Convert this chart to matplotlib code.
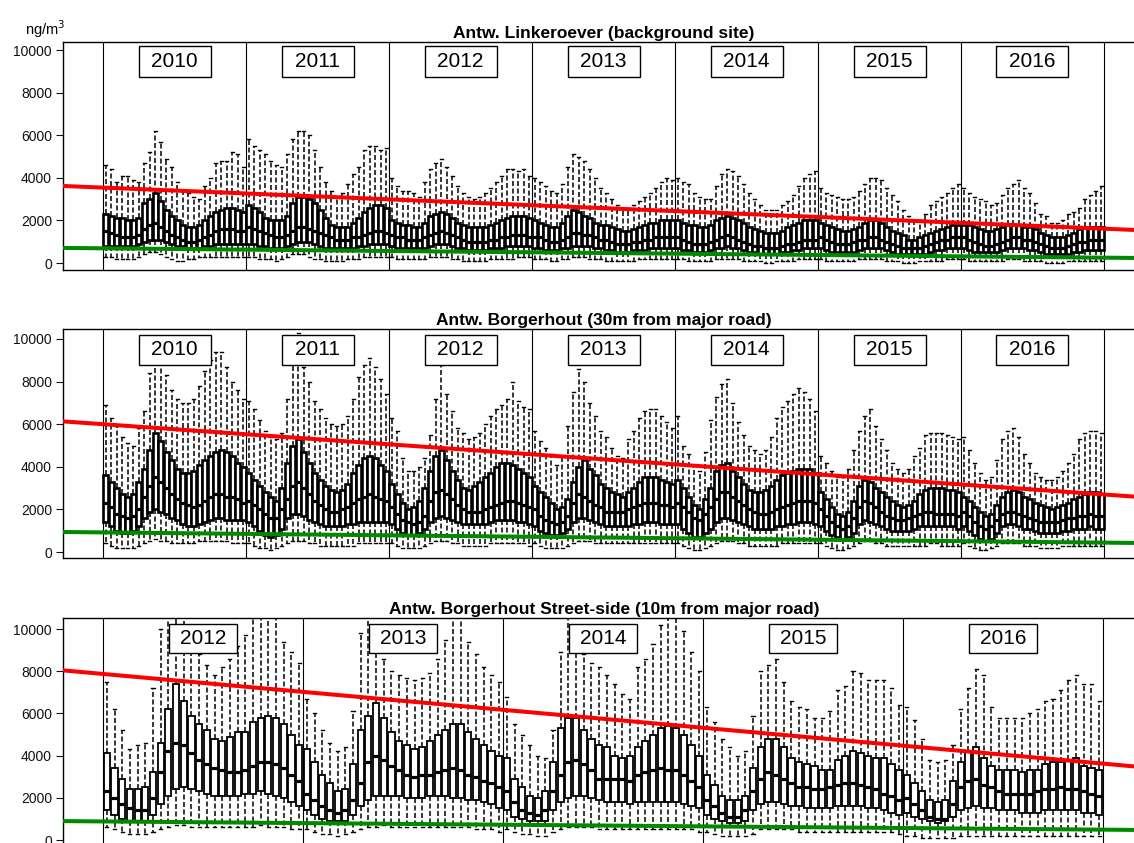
import numpy as np
import matplotlib
matplotlib.use("Agg")
import matplotlib.pyplot as plt
from matplotlib.patches import Rectangle

plt.rcParams['font.family'] = ['Liberation Sans', 'DejaVu Sans']
plt.rcParams['lines.scale_dashes'] = False

# Weekly-ish (two-week) box statistics, in units of 100 ng/m3, one row per year

# Antwerpen Linkeroever (background), 2010-2016
lin_hi = [
    46, 44, 38, 41, 41, 39, 38, 47, 52, 62, 57, 49, 45, 38, 34, 33, 31, 30, 36, 40, 47, 48, 48, 52, 51, 45,
    58, 55, 53, 51, 48, 46, 45, 51, 58, 62, 62, 60, 53, 45, 38, 34, 31, 33, 37, 42, 45, 53, 55, 55, 53, 54,
    40, 36, 34, 34, 33, 31, 38, 44, 47, 49, 45, 41, 36, 33, 31, 30, 31, 33, 35, 38, 41, 44, 44, 43, 44, 41,
    40, 38, 36, 34, 33, 37, 45, 51, 50, 48, 44, 40, 35, 33, 30, 27, 26, 26, 27, 29, 31, 33, 35, 38, 40, 39,
    40, 38, 37, 33, 31, 30, 30, 36, 42, 44, 43, 41, 37, 33, 30, 27, 25, 25, 25, 27, 29, 32, 36, 40, 42, 43,
    35, 33, 32, 31, 30, 30, 31, 34, 37, 40, 40, 39, 35, 32, 29, 25, 22, 20, 20, 23, 27, 29, 31, 33, 35, 37,
    35, 33, 31, 30, 29, 27, 28, 32, 35, 37, 39, 35, 33, 28, 23, 22, 19, 19, 20, 23, 24, 26, 30, 32, 34, 36,
]
lin_q3 = [
    23, 22, 21, 21, 20, 20, 21, 28, 30, 33, 29, 25, 22, 20, 18, 17, 17, 18, 20, 22, 24, 25, 26, 26, 25, 24,
    27, 26, 24, 21, 20, 20, 20, 22, 28, 31, 31, 30, 28, 25, 21, 18, 17, 17, 17, 19, 21, 24, 26, 27, 27, 26,
    20, 19, 18, 18, 17, 17, 19, 22, 23, 24, 23, 21, 19, 18, 17, 17, 17, 17, 18, 19, 20, 21, 22, 22, 22, 21,
    20, 19, 18, 17, 17, 19, 22, 25, 24, 22, 21, 19, 18, 18, 17, 16, 15, 15, 16, 17, 18, 19, 19, 20, 20, 20,
    20, 19, 18, 18, 17, 17, 18, 20, 21, 22, 21, 20, 19, 17, 16, 15, 14, 14, 14, 15, 17, 18, 19, 20, 20, 20,
    19, 18, 17, 16, 15, 15, 16, 17, 19, 20, 20, 19, 17, 15, 14, 13, 11, 11, 12, 13, 14, 15, 16, 17, 18, 18,
    18, 18, 17, 16, 15, 15, 16, 17, 18, 18, 18, 17, 17, 16, 14, 13, 12, 12, 12, 13, 14, 16, 17, 17, 17, 17,
]
lin_med = [
    15, 14, 13, 12, 12, 12, 13, 16, 18, 19, 17, 15, 13, 12, 11, 10, 10, 11, 12, 13, 15, 16, 16, 16, 15, 15,
    17, 16, 15, 14, 13, 12, 12, 13, 15, 17, 17, 16, 15, 14, 13, 12, 11, 11, 11, 12, 12, 13, 14, 15, 15, 14,
    13, 12, 12, 11, 11, 11, 12, 13, 14, 15, 14, 13, 12, 11, 10, 10, 10, 10, 11, 11, 12, 12, 13, 13, 13, 12,
    12, 12, 11, 10, 10, 11, 12, 14, 14, 13, 13, 12, 11, 11, 10, 9, 9, 9, 10, 10, 11, 11, 12, 12, 12, 12,
    12, 11, 10, 9, 9, 9, 10, 11, 12, 13, 12, 11, 10, 9, 8, 8, 7, 7, 7, 8, 9, 9, 10, 11, 11, 11,
    12, 11, 10, 9, 9, 9, 10, 11, 11, 12, 12, 11, 10, 9, 8, 7, 7, 7, 7, 8, 9, 10, 11, 11, 12, 12,
    12, 11, 10, 9, 8, 8, 9, 10, 11, 12, 12, 11, 11, 10, 9, 8, 7, 7, 7, 8, 9, 10, 10, 11, 11, 11,
]
lin_q1 = [
    8, 8, 8, 8, 8, 8, 9, 10, 11, 11, 11, 10, 9, 8, 8, 7, 7, 7, 8, 8, 9, 9, 9, 9, 9, 9,
    9, 9, 8, 8, 7, 7, 7, 8, 9, 10, 10, 10, 9, 8, 7, 7, 7, 7, 7, 7, 8, 8, 9, 9, 9, 9,
    8, 7, 7, 7, 7, 7, 7, 8, 9, 9, 9, 8, 7, 7, 6, 6, 6, 6, 7, 7, 7, 8, 8, 8, 8, 8,
    7, 7, 6, 6, 6, 7, 7, 8, 8, 8, 8, 7, 7, 6, 6, 5, 5, 5, 6, 6, 6, 7, 7, 7, 7, 7,
    7, 6, 6, 5, 5, 5, 6, 7, 7, 8, 7, 7, 6, 5, 5, 4, 4, 4, 4, 5, 5, 6, 6, 7, 7, 7,
    7, 6, 5, 5, 5, 5, 5, 6, 7, 7, 7, 7, 6, 5, 4, 4, 4, 4, 4, 4, 5, 6, 6, 7, 7, 7,
    7, 6, 5, 5, 5, 5, 5, 6, 7, 7, 7, 7, 6, 6, 5, 4, 4, 4, 4, 4, 5, 5, 6, 6, 6, 6,
]
lin_lo = [
    3, 3, 2, 2, 2, 2, 3, 4, 5, 5, 4, 3, 2, 1, 1, 2, 2, 3, 3, 3, 3, 3, 3, 3, 3, 3,
    3, 3, 2, 2, 2, 1, 2, 3, 4, 4, 4, 3, 2, 2, 1, 1, 1, 1, 2, 2, 2, 3, 3, 3, 3, 3,
    3, 2, 2, 2, 2, 2, 2, 3, 3, 3, 3, 2, 2, 1, 1, 1, 1, 1, 2, 2, 2, 2, 2, 3, 3, 3,
    2, 2, 2, 1, 1, 2, 2, 3, 3, 3, 2, 2, 2, 1, 1, 1, 1, 1, 1, 2, 2, 2, 2, 2, 2, 2,
    2, 2, 1, 1, 1, 1, 1, 2, 2, 2, 2, 2, 1, 1, 1, 1, 0, 0, 1, 1, 1, 1, 2, 2, 2, 2,
    2, 1, 1, 1, 1, 1, 1, 2, 2, 2, 2, 2, 1, 1, 1, 0, 0, 0, 1, 1, 1, 1, 1, 2, 2, 2,
    2, 1, 1, 1, 1, 1, 1, 1, 2, 2, 2, 1, 1, 1, 1, 0, 0, 0, 0, 1, 1, 1, 1, 1, 1, 1,
]

# Antwerpen Borgerhout (30 m from road), 2010-2016
bor_hi = [
    69, 63, 59, 54, 51, 50, 58, 66, 84, 100, 93, 83, 76, 72, 70, 70, 72, 78, 85, 90, 94, 94, 87, 80, 76, 72,
    71, 67, 62, 57, 54, 53, 56, 72, 92, 103, 87, 80, 71, 67, 63, 60, 59, 60, 64, 72, 82, 88, 91, 87, 81, 74,
    63, 57, 44, 38, 38, 40, 44, 55, 72, 88, 74, 66, 58, 56, 53, 54, 56, 60, 64, 67, 69, 72, 80, 71, 68, 67,
    57, 52, 49, 46, 41, 45, 59, 75, 86, 80, 70, 64, 57, 54, 49, 45, 44, 53, 57, 63, 66, 67, 67, 64, 61, 58,
    64, 50, 46, 41, 38, 47, 62, 73, 79, 81, 70, 61, 55, 50, 48, 46, 48, 54, 63, 68, 71, 74, 77, 75, 72, 66,
    45, 42, 38, 35, 35, 39, 48, 57, 64, 67, 59, 53, 48, 42, 39, 37, 39, 45, 49, 55, 56, 56, 56, 55, 54, 53,
    54, 48, 42, 37, 34, 35, 43, 53, 57, 58, 54, 46, 42, 37, 35, 34, 34, 35, 38, 42, 46, 53, 56, 57, 57, 56,
]
bor_q3 = [
    36, 33, 30, 27, 26, 27, 33, 39, 48, 56, 52, 47, 43, 39, 37, 37, 38, 41, 43, 45, 47, 48, 47, 45, 42, 40,
    37, 34, 31, 28, 26, 24, 30, 42, 50, 53, 47, 42, 37, 34, 31, 29, 28, 29, 32, 37, 41, 44, 45, 44, 41, 38,
    32, 27, 23, 20, 21, 24, 30, 38, 45, 48, 43, 38, 34, 30, 29, 31, 33, 35, 37, 40, 42, 42, 41, 39, 37, 35,
    31, 28, 26, 23, 20, 21, 25, 33, 40, 43, 39, 36, 32, 30, 28, 27, 26, 28, 30, 33, 35, 35, 35, 34, 33, 32,
    34, 30, 26, 22, 20, 25, 30, 38, 41, 42, 38, 35, 32, 29, 28, 28, 29, 31, 34, 36, 37, 38, 39, 39, 39, 37,
    28, 25, 21, 18, 17, 19, 24, 31, 34, 33, 30, 28, 26, 24, 22, 21, 22, 24, 27, 29, 30, 30, 30, 29, 29, 28,
    26, 24, 21, 19, 17, 18, 22, 26, 28, 29, 28, 26, 25, 23, 22, 21, 20, 21, 22, 23, 25, 26, 27, 28, 28, 27,
]
bor_med = [
    23, 21, 18, 17, 16, 17, 20, 26, 31, 35, 33, 30, 27, 25, 23, 22, 21, 22, 24, 26, 27, 27, 26, 26, 25, 23,
    24, 22, 20, 18, 16, 16, 20, 25, 31, 33, 30, 27, 24, 22, 20, 19, 19, 20, 21, 23, 25, 26, 27, 26, 25, 24,
    21, 18, 15, 14, 13, 14, 17, 24, 28, 29, 27, 25, 22, 20, 19, 19, 19, 20, 21, 22, 23, 24, 24, 23, 22, 21,
    20, 17, 15, 14, 13, 14, 17, 23, 27, 26, 24, 22, 21, 19, 19, 19, 19, 20, 21, 22, 23, 23, 23, 22, 22, 21,
    23, 21, 19, 16, 15, 18, 21, 25, 28, 28, 26, 24, 22, 20, 19, 18, 18, 19, 20, 21, 22, 23, 24, 24, 24, 23,
    20, 17, 14, 12, 11, 12, 16, 21, 24, 23, 21, 19, 17, 16, 15, 15, 16, 17, 18, 19, 19, 18, 18, 18, 18, 17,
    19, 17, 14, 12, 11, 12, 15, 18, 19, 19, 18, 17, 16, 15, 14, 14, 14, 14, 15, 16, 16, 17, 17, 18, 17, 17,
]
bor_q1 = [
    14, 12, 10, 9, 9, 10, 12, 16, 19, 20, 19, 18, 16, 15, 13, 12, 12, 13, 14, 15, 16, 16, 15, 15, 15, 15,
    14, 12, 10, 8, 7, 8, 11, 16, 18, 18, 17, 15, 14, 13, 12, 12, 12, 12, 13, 13, 14, 14, 14, 14, 14, 14,
    13, 11, 9, 8, 8, 9, 11, 14, 16, 17, 16, 15, 14, 13, 13, 13, 13, 13, 14, 15, 15, 15, 15, 14, 14, 13,
    12, 10, 9, 8, 8, 9, 11, 14, 16, 16, 15, 14, 13, 12, 12, 12, 12, 12, 13, 13, 14, 14, 14, 13, 13, 13,
    13, 11, 9, 7, 7, 9, 11, 14, 16, 16, 15, 14, 13, 12, 11, 11, 11, 11, 12, 12, 13, 13, 14, 14, 14, 13,
    12, 10, 8, 7, 6, 7, 9, 13, 15, 14, 13, 12, 11, 10, 10, 10, 10, 11, 12, 12, 12, 12, 12, 12, 12, 11,
    12, 10, 8, 6, 5, 6, 9, 12, 13, 13, 12, 11, 11, 10, 9, 9, 9, 9, 10, 10, 11, 11, 11, 12, 11, 11,
]
bor_lo = [
    4, 3, 2, 2, 2, 2, 3, 4, 5, 6, 5, 5, 4, 4, 4, 4, 4, 5, 5, 5, 5, 5, 5, 4, 4, 4,
    4, 3, 2, 2, 1, 2, 3, 4, 5, 5, 5, 4, 4, 3, 3, 3, 3, 3, 3, 3, 4, 4, 4, 4, 4, 4,
    4, 3, 2, 2, 2, 2, 3, 4, 5, 5, 5, 4, 4, 3, 3, 3, 3, 3, 4, 4, 4, 4, 4, 4, 4, 3,
    4, 3, 2, 2, 2, 2, 3, 4, 5, 5, 5, 4, 4, 4, 4, 4, 4, 4, 4, 4, 4, 4, 4, 4, 4, 4,
    4, 3, 2, 1, 1, 2, 3, 4, 5, 5, 5, 4, 4, 3, 3, 3, 3, 3, 3, 4, 4, 4, 4, 4, 4, 4,
    4, 3, 2, 1, 1, 2, 3, 4, 5, 5, 4, 4, 3, 3, 3, 3, 3, 3, 3, 3, 4, 4, 3, 3, 3, 3,
    4, 3, 2, 1, 1, 2, 3, 4, 4, 4, 4, 3, 3, 3, 2, 2, 2, 2, 3, 3, 3, 3, 3, 3, 3, 3,
]

# Antwerpen Borgerhout street-side (10 m from road), 2012-2016
str_hi = [
    75, 62, 52, 43, 45, 46, 72, 100, 115, 118, 112, 92, 88, 83, 78, 82, 86, 92, 97, 108, 118, 120, 112, 94, 89, 84,
    67, 60, 52, 46, 42, 44, 61, 98, 112, 95, 86, 80, 78, 77, 76, 77, 79, 86, 95, 108, 112, 94, 88, 82, 78, 75,
    68, 55, 50, 45, 40, 39, 52, 89, 112, 99, 88, 84, 82, 78, 74, 69, 67, 82, 86, 93, 102, 115, 106, 99, 89, 80,
    63, 56, 48, 44, 40, 42, 59, 80, 83, 86, 75, 66, 63, 62, 58, 58, 61, 71, 73, 80, 79, 76, 76, 76, 72, 64,
    63, 57, 48, 38, 37, 38, 45, 62, 72, 81, 78, 63, 58, 58, 58, 58, 60, 62, 66, 67, 71, 76, 78, 74, 74, 66,
]
str_q3 = [
    41, 34, 29, 24, 24, 25, 32, 46, 62, 74, 66, 59, 55, 52, 48, 47, 49, 51, 51, 56, 58, 59, 58, 55, 50, 45,
    43, 37, 31, 27, 23, 24, 36, 52, 59, 65, 58, 51, 47, 45, 43, 44, 47, 50, 52, 55, 55, 51, 48, 45, 42, 40,
    39, 29, 25, 21, 20, 23, 37, 53, 58, 58, 52, 48, 45, 44, 40, 39, 40, 44, 47, 50, 53, 54, 53, 50, 45, 40,
    31, 26, 21, 19, 19, 21, 34, 44, 48, 48, 44, 39, 37, 36, 35, 33, 33, 38, 40, 42, 41, 40, 39, 39, 36, 33,
    31, 27, 23, 19, 18, 19, 28, 37, 42, 44, 39, 35, 33, 33, 33, 32, 33, 33, 36, 37, 37, 38, 39, 35, 34, 33,
]
str_med = [
    23, 20, 17, 15, 14, 14, 20, 32, 42, 46, 45, 41, 38, 36, 34, 33, 32, 32, 33, 35, 37, 37, 36, 34, 31, 28,
    22, 19, 16, 14, 13, 14, 19, 27, 37, 40, 38, 35, 33, 31, 30, 31, 31, 32, 33, 34, 33, 31, 30, 28, 27, 25,
    23, 18, 14, 13, 12, 14, 23, 31, 37, 38, 36, 33, 29, 29, 29, 29, 28, 31, 32, 33, 34, 33, 33, 31, 28, 25,
    19, 16, 13, 11, 11, 14, 23, 29, 32, 31, 29, 27, 25, 25, 24, 24, 25, 26, 27, 27, 26, 25, 24, 22, 21, 19,
    20, 17, 14, 11, 10, 10, 17, 25, 28, 29, 26, 25, 23, 22, 22, 22, 22, 23, 24, 24, 25, 24, 24, 23, 22, 21,
]
str_q1 = [
    14, 12, 10, 9, 9, 9, 12, 17, 21, 24, 25, 24, 23, 22, 21, 21, 21, 21, 22, 22, 23, 22, 21, 20, 18, 16,
    14, 12, 10, 9, 9, 9, 12, 16, 19, 21, 21, 21, 21, 20, 20, 20, 21, 21, 21, 20, 20, 19, 19, 18, 17, 15,
    14, 11, 10, 9, 9, 9, 14, 18, 20, 21, 21, 20, 19, 18, 18, 18, 17, 18, 18, 18, 18, 18, 18, 17, 16, 15,
    12, 10, 9, 8, 8, 9, 14, 17, 18, 18, 17, 16, 16, 15, 15, 15, 15, 16, 16, 16, 16, 15, 15, 14, 13, 12,
    13, 11, 10, 9, 8, 9, 11, 14, 15, 16, 15, 15, 14, 14, 14, 13, 13, 13, 14, 14, 14, 14, 14, 13, 13, 12,
]
str_lo = [
    6, 5, 4, 3, 3, 3, 4, 5, 6, 7, 7, 6, 6, 6, 6, 6, 6, 6, 6, 6, 7, 6, 6, 6, 5, 5,
    5, 4, 3, 3, 2, 3, 4, 5, 6, 6, 7, 6, 6, 6, 6, 6, 6, 6, 6, 6, 6, 6, 5, 5, 5, 4,
    5, 4, 3, 3, 2, 2, 4, 5, 6, 6, 6, 6, 5, 5, 5, 5, 5, 5, 5, 5, 5, 5, 5, 5, 5, 4,
    4, 3, 2, 2, 2, 2, 3, 5, 5, 5, 5, 5, 4, 4, 4, 4, 4, 4, 4, 4, 4, 4, 4, 4, 4, 3,
    2, 2, 1, 1, 1, 1, 1, 2, 2, 2, 2, 2, 2, 2, 2, 2, 2, 2, 2, 2, 2, 2, 2, 2, 2, 2,
]

# linear trends of the upper (red) and lower (green) envelope, ng/m3 at start/end year
lin_red = [3540, 1610]
lin_green = [690, 250]
bor_red = [6000, 2700]
bor_green = [920, 440]
str_red = [7870, 3620]
str_green = [880, 490]

BOXES_PER_YEAR = 26
W, H = 1134, 843


def panel(fig, frame, y0, px_per_1000, first_year, n_years, px_per_year,
          lo, q1, med, q3, hi, red, green, title, year_box, box_lw, box_frac):
    left, right, top, bottom = frame
    ax = fig.add_axes([left / W, 1 - bottom / H, (right - left) / W, (bottom - top) / H])

    x_left = first_year - (103 - left) / px_per_year
    x_right = first_year + (right - 103) / px_per_year
    ax.set_xlim(x_left, x_right)
    ax.set_ylim((y0 - bottom) / px_per_1000 * 1000, (y0 - top) / px_per_1000 * 1000)

    n = len(med)
    pos = first_year + (np.arange(n) + 0.5) / BOXES_PER_YEAR
    stats = []
    for a, b, c, d, e in zip(lo, q1, med, q3, hi):
        stats.append(dict(whislo=a * 100, q1=b * 100, med=c * 100, q3=d * 100,
                          whishi=e * 100, fliers=[]))
    ax.bxp(stats, positions=pos, widths=box_frac / BOXES_PER_YEAR, patch_artist=True,
           showfliers=False, manage_ticks=False,
           boxprops=dict(facecolor='white', edgecolor='black', linewidth=box_lw),
           whiskerprops=dict(color='black', linewidth=1.1, linestyle=(0, (3.6, 1.8))),
           capprops=dict(color='black', linewidth=1.0),
           medianprops=dict(color='black', linewidth=2.3, solid_capstyle='butt'))

    last_year = first_year + n_years
    for yr in range(first_year, last_year + 1):
        ax.axvline(yr, color='black', linewidth=0.8, zorder=3)

    ax.axline((first_year, red[0]), (last_year, red[1]), color='#ff0000', linewidth=2.9, zorder=4)
    ax.axline((first_year, green[0]), (last_year, green[1]), color='#008a00', linewidth=2.9, zorder=4)

    bw_px, bh_px, yc = year_box
    bw = bw_px / px_per_year
    bh = bh_px / px_per_1000 * 1000
    for yr in range(first_year, last_year):
        ax.add_patch(Rectangle((yr + 0.5 - bw / 2, yc - bh / 2), bw, bh, facecolor='white',
                               edgecolor='black', linewidth=1.0, zorder=5))
        ax.text(yr + 0.5, yc, str(yr), ha='center', va='center', fontsize=15, zorder=6)

    ax.set_yticks(range(0, 10001, 2000))
    ax.set_xticks([])
    ax.tick_params(axis='y', labelsize=10, length=5, width=0.8, pad=3, colors='#111111')
    for s in ax.spines.values():
        s.set_linewidth(1.0)
    ax.set_title(title, fontsize=12.5, fontweight='bold', pad=3)
    return ax


fig = plt.figure(figsize=(W / 100, H / 100), dpi=100)

panel(fig, (63, 1145, 42, 270), 263, 21.3, 2010, 7, 143,
      lin_lo, lin_q1, lin_med, lin_q3, lin_hi, lin_red, lin_green,
      'Antw. Linkeroever (background site)', (72, 31, 9460), 1.9, 0.92)
panel(fig, (63, 1145, 329, 558), 552, 21.3, 2010, 7, 143,
      bor_lo, bor_q1, bor_med, bor_q3, bor_hi, bor_red, bor_green,
      'Antw. Borgerhout (30m from major road)', (72, 30, 9500), 1.9, 0.92)
panel(fig, (63, 1145, 618, 848), 840, 21.1, 2012, 5, 200,
      str_lo, str_q1, str_med, str_q3, str_hi, str_red, str_green,
      'Antw. Borgerhout Street-side (10m from major road)', (68, 29, 9550), 1.3, 0.8)

fig.text(25 / W, 1 - 35 / H, 'ng/m$^3$', fontsize=10.5, ha='left', va='baseline')

fig.savefig('out.png', dpi=100)
